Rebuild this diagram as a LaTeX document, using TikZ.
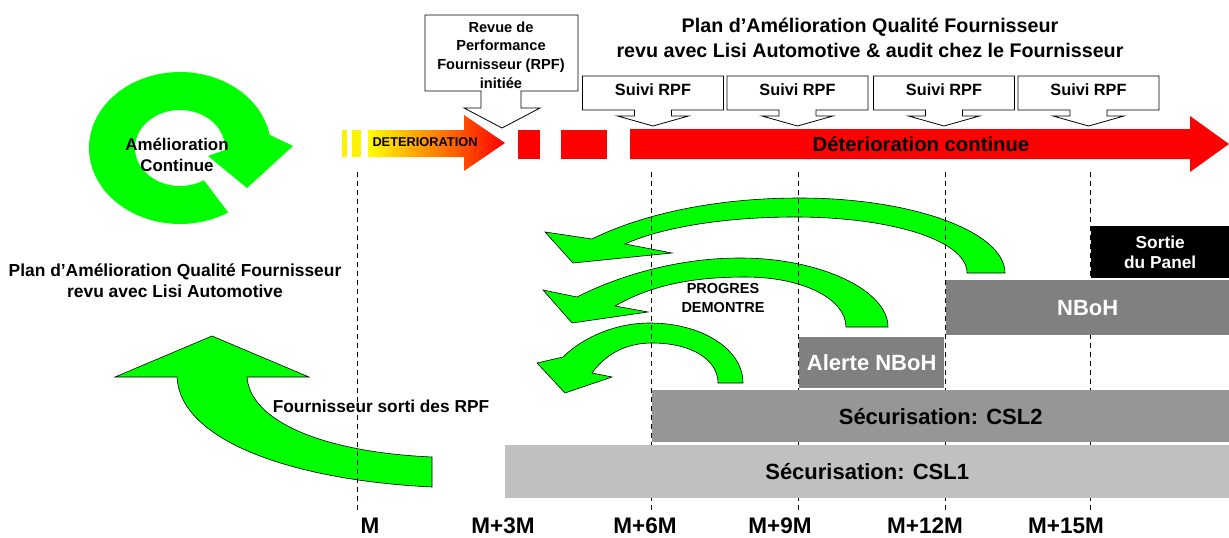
\documentclass[tikz,border=0pt]{standalone}
\usepackage{fontspec}
\setmainfont{Liberation Sans}
\usepackage{tikz}
\usetikzlibrary{positioning}

\definecolor{arrowgreen}{RGB}{0,255,0}
\definecolor{barred}{RGB}{255,0,0}
\definecolor{nbohgray}{RGB}{128,128,128}
\definecolor{csltwogray}{RGB}{150,150,150}
\definecolor{cslonegray}{RGB}{192,192,192}

\tikzset{
  greenarrow/.style={fill=arrowgreen, draw=black, line width=0.6pt},
  callout/.style={fill=white, draw=black, line width=0.8pt},
  monthline/.style={draw=black, line width=0.9pt, dash pattern=on 5pt off 4pt},
  timebar/.style={anchor=north west, inner sep=0pt, font=\bfseries\fontsize{22}{26}\selectfont},
  monthlabel/.style={inner sep=0pt, font=\bfseries\fontsize{22.5}{26}\selectfont},
  smalltxt/.style={inner sep=0pt, align=center, font=\bfseries\fontsize{#1}{1.3*#1}\selectfont},
}

\begin{document}
\begin{tikzpicture}[x=1pt,y=-1pt]
  \useasboundingbox (0,0) rectangle (1229,538);

  % circular arrow, top left
  \fill[arrowgreen] plot[domain=-58:-350,samples=90] ({180+91*cos(\x)},{148-76*sin(\x)})
    -- (293,146) -- (247,188) -- (208,156)
    -- plot[domain=-3:302,samples=90] ({180+45*cos(\x)},{148-38*sin(\x)}) -- cycle;
  \node[align=center, inner sep=0pt, font=\bfseries\fontsize{16.9}{21}\selectfont] (amelio) at (177,155) {Amélioration\\Continue};

  \node[align=center, inner sep=0pt, font=\bfseries\fontsize{17.4}{21}\selectfont] (planleft) at (175,281)
    {Plan d'Amélioration Qualité Fournisseur\\revu avec Lisi Automotive};

  % deterioration bar
  \fill[yellow] (342,130) rectangle (347,157);
  \fill[yellow] (352,130) rectangle (361,157);
  \shade[left color=yellow, right color=red] (368,130) -- (464,130) -- (464,115) -- (505,143)
    -- (464,171) -- (464,157) -- (368,157) -- cycle;
  \node[inner sep=0pt, font=\bfseries\fontsize{12.8}{15}\selectfont] (deterio) at (425,142) {DETERIORATION};
  \fill[barred] (518,130) rectangle (540,159);
  \fill[barred] (561,130) rectangle (607,159);
  \fill[barred] (630,129) -- (1190,129) -- (1190,116) -- (1229,144) -- (1190,172) -- (1190,159)
    -- (630,159) -- cycle;
  \node[inner sep=0pt, font=\bfseries\fontsize{20.3}{24}\selectfont] (contdet) at (921,144) {Déterioration continue};

  % callouts
  \draw[callout] (425,15) -- (578,15) -- (578,91) -- (521,91) -- (521,108) -- (540,108) -- (502,128)
    -- (464,108) -- (481,108) -- (481,91) -- (425,91) -- cycle;
  \node[align=center, inner sep=0pt, font=\bfseries\fontsize{14.6}{18.7}\selectfont] (rpfstart) at (501,55)
    {Revue de\\Performance\\Fournisseur (RPF)\\initiée};
  \foreach \cx [count=\i] in {653,797.5,944,1088.5}{
    \draw[callout] ({\cx-70.5},76) -- ({\cx+70.5},76) -- ({\cx+70.5},110) -- ({\cx+18.5},110)
      -- ({\cx+18.5},116) -- ({\cx+35.5},116) -- (\cx,126) -- ({\cx-35.5},116) -- ({\cx-18.5},116)
      -- ({\cx-18.5},110) -- ({\cx-70.5},110) -- cycle;
    \node[inner sep=0pt, font=\bfseries\fontsize{16.3}{19}\selectfont] (suivi\i) at (\cx,90) {Suivi RPF};
  }

  \node[align=center, inner sep=0pt, font=\bfseries\fontsize{19.7}{25}\selectfont] (plantitle) at (870,38)
    {Plan d'Amélioration Qualité Fournisseur\\revu avec Lisi Automotive \& audit chez le Fournisseur};

  % green return arrows
  \draw[greenarrow] (1005,273) .. controls (1005,232) and (913,198) .. (800,198)
    .. controls (700,198) and (630,220) .. (592,239) -- (545,232) -- (573,263) -- (672,253) -- (625,244)
    .. controls (665,226) and (730,217) .. (795,217) .. controls (890,217) and (967,240) .. (967,273) -- cycle;
  \draw[greenarrow] (888,327) .. controls (888,290) and (820,258) .. (740,258)
    .. controls (670,258) and (610,280) .. (577,297) -- (543,290) -- (572,323) -- (648,312) -- (615,306)
    .. controls (650,286) and (690,277) .. (745,277) .. controls (805,277) and (846,300) .. (846,327) -- cycle;
  \draw[greenarrow] (743,383) .. controls (743,348) and (700,323) .. (650,323)
    .. controls (612,323) and (580,340) .. (563,357) -- (537,363) -- (565,393) -- (612,377) -- (592,373)
    .. controls (605,355) and (625,343) .. (652,343) .. controls (692,343) and (718,360) .. (718,383) -- cycle;
  \draw[greenarrow] (432,487) .. controls (290,480) and (180,440) .. (177,377) -- (115,377) -- (212,336)
    -- (309,377) -- (247,377) .. controls (250,420) and (320,452) .. (432,457) -- cycle;
  \node[align=center, inner sep=0pt, font=\bfseries\fontsize{14.5}{19}\selectfont] (progres) at (723,298) {PROGRES\\DEMONTRE};
  \node[inner sep=0pt, font=\bfseries\fontsize{17.3}{20}\selectfont] (sorti) at (381,406) {Fournisseur sorti des RPF};

  % month lines
  \foreach \mx in {357,651,798,945,1090}
    \draw[monthline] (\mx,172) -- (\mx,510);

  % bars
  \node[timebar, fill=black, text=white, align=center, font=\bfseries\fontsize{17.3}{20}\selectfont,
    minimum width=138pt, minimum height=52pt] (sortie) at (1091,226) {Sortie\\du Panel};
  \node[timebar, fill=nbohgray, text=white, minimum width=283pt, minimum height=55pt] (nboh) at (946,280) {NBoH};
  \node[timebar, fill=nbohgray, text=white, minimum width=145pt, minimum height=51pt] (alerte) at (799,337) {Alerte NBoH};
  \node[timebar, fill=csltwogray, minimum width=577pt, minimum height=52pt] (csltwo) at (652,390) {Sécurisation: CSL2};
  \node[timebar, fill=cslonegray, minimum width=724pt, minimum height=53pt] (cslone) at (505,445) {Sécurisation: CSL1};

  % month labels
  \foreach \lx/\lab [count=\i] in {370/M, 503/M+3M, 645/M+6M, 780/M+9M, 925/M+12M, 1066/M+15M}
    \node[monthlabel] (month\i) at (\lx,526) {\lab};
\end{tikzpicture}
\end{document}
